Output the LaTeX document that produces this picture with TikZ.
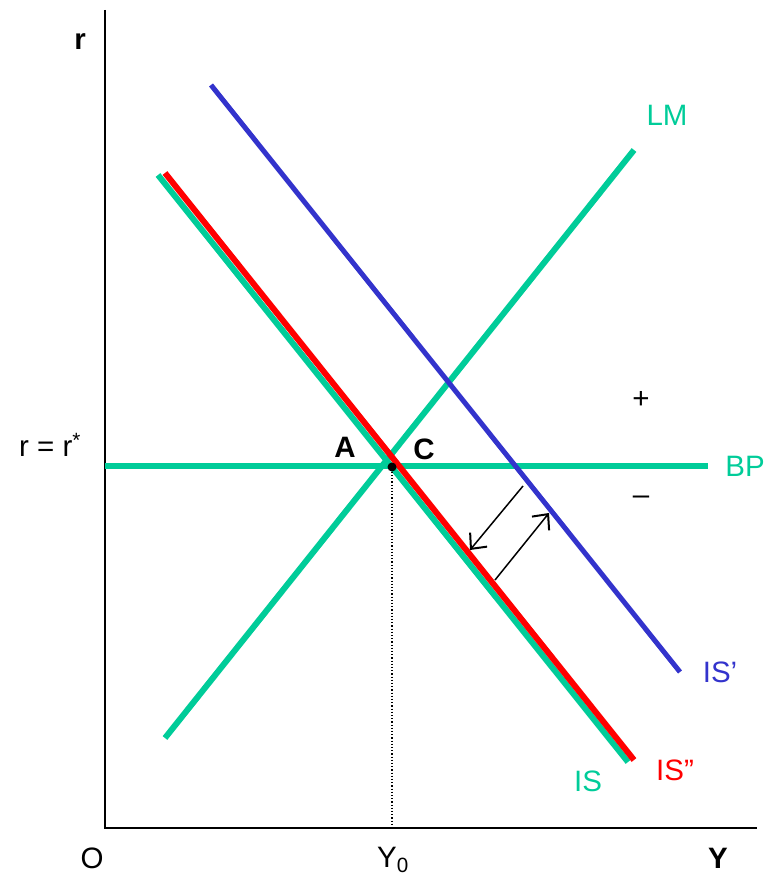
\documentclass[tikz,border=0pt]{standalone}
\usepackage{fontspec}
\setmainfont{Liberation Sans}
\usetikzlibrary{arrows.meta}
\definecolor{cgreen}{RGB}{0,204,153}
\definecolor{cblue}{RGB}{51,51,204}
\definecolor{cred}{RGB}{255,0,0}
\tikzset{
  curve/.style={line width=6pt},
  lbl/.style={font=\fontsize{29.5}{34}\selectfont, inner sep=0pt},
  blbl/.style={font=\fontsize{29.5}{34}\selectfont\bfseries, inner sep=0pt},
  axis/.style={line width=2pt, black},
  shiftarrow/.style={line width=1.5pt, -{Straight Barb[length=12pt,width=22pt,line width=2pt]}}
}
\begin{document}
\begin{tikzpicture}[x=1pt,y=-1pt]
\useasboundingbox (0,0) rectangle (771,882);
% coordinates
\coordinate (yTop) at (105,10);
\coordinate (O) at (105,828);
\coordinate (xEnd) at (757,828);
\coordinate (lm1) at (165,738);
\coordinate (lm2) at (634,150);
\coordinate (is1) at (158,175);
\coordinate (is2) at (628,762);
\coordinate (isr1) at (165,173);
\coordinate (isr2) at (634,760);
\coordinate (isb1) at (211,85);
\coordinate (isb2) at (680,672);
\coordinate (bp1) at (105,466);
\coordinate (bp2) at (708,466);
\coordinate (Y0) at (392,828);
\coordinate (a1s) at (523,486);
\coordinate (a1e) at (470,550);
\coordinate (a2s) at (495,580);
\coordinate (a2e) at (549,513);
% axes
\draw[axis] (yTop) -- (O) -- (xEnd);
% curves
\draw[curve, cgreen] (bp1) -- (bp2);
\draw[curve, cgreen] (lm1) -- (lm2);
\draw[curve, cgreen] (is1) -- (is2);
\draw[curve, cred] (isr1) -- (isr2);
\draw[curve, cblue, line width=5pt] (isb1) -- (isb2);
% equilibrium
\node[circle, fill=black, inner sep=0pt, minimum size=9pt] (E) at (392,467) {};
\draw[line width=1.2pt, dotted] (E) -- (Y0);
% arrows
\draw[shiftarrow] (a1s) -- (a1e);
\draw[shiftarrow] (a2s) -- (a2e);
% labels
\node[blbl] (lr) at (80,42) {r};
\node[blbl] (lY) at (718,858) {Y};
\node[lbl] (lO) at (92,858) {O};
\node[lbl] (lY0) at (393,860) {Y\textsubscript{0}};
\node[lbl, text=cgreen] (lLM) at (667,115) {LM};
\node[lbl, text=cgreen] (lBP) at (745,466) {BP};
\node[lbl, text=cblue] (lISb) at (720,672) {IS’};
\node[lbl, text=cred] (lISr) at (675,770) {IS”};
\node[lbl, text=cgreen] (lIS) at (588,781) {IS};
\node[lbl] (lplus) at (641,400) {+};
\node[lbl] (lminus) at (641,500) {–};
\node[lbl] (lrr) at (50,445) {r = r\textsuperscript{*}};
\node[blbl] (lA) at (345,447) {A};
\node[blbl] (lC) at (424,449) {C};
\end{tikzpicture}
\end{document}
